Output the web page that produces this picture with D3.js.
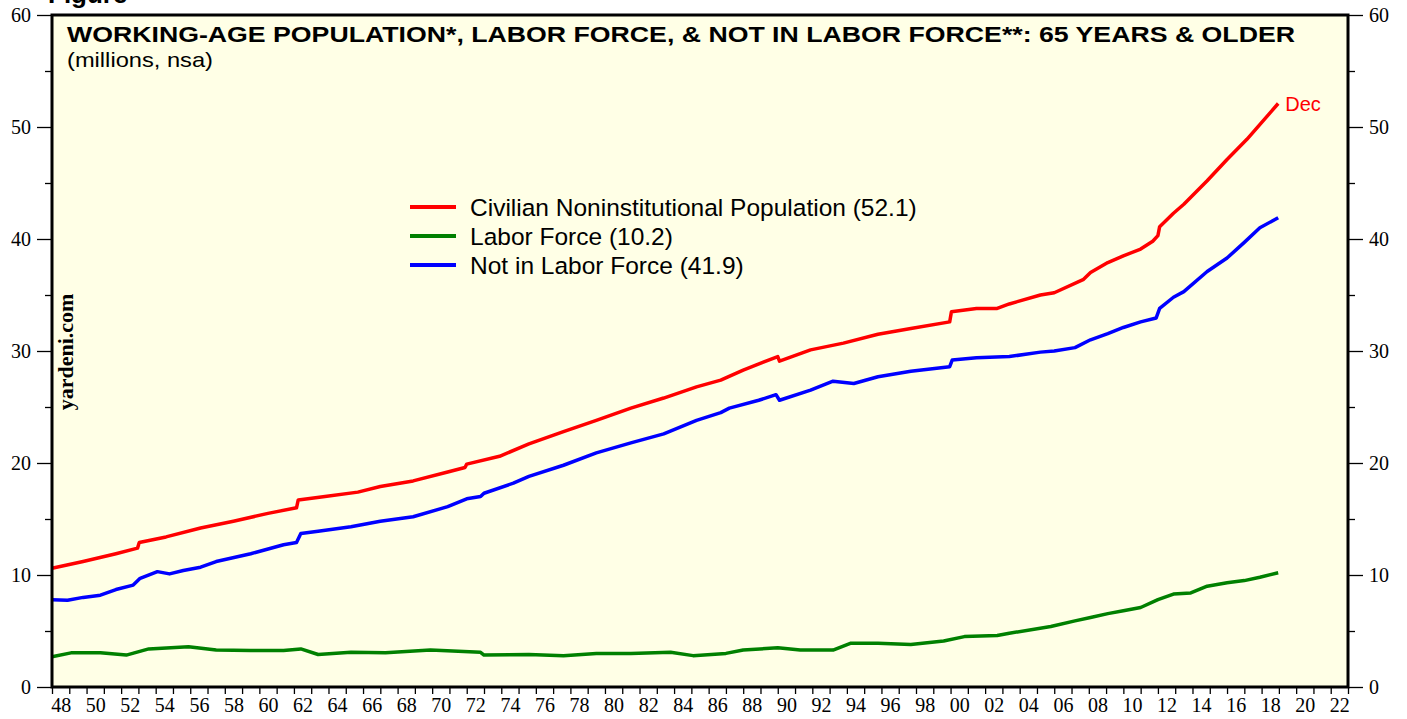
<!DOCTYPE html>
<html>
<head>
<meta charset="utf-8">
<script src="https://cdn.jsdelivr.net/npm/d3@7"></script>
<style>
  body { margin: 0; background: #fff; }
  svg { display: block; }
  .axis path { display: none; }
  .axis line { stroke: #000; stroke-width: 1.3; }
  .axis text { font-family: "Liberation Serif", "Times New Roman", serif; font-size: 20px; fill: #000; }
</style>
</head>
<body>
<svg id="chart" width="1407" height="719"></svg>
<script>
// Series: [decimal year, millions]
const civPop = [
  [1948.0, 10.6], [1949.8, 11.2], [1951.7, 11.9], [1952.95, 12.4], [1953.05, 12.9],
  [1954.6, 13.4], [1956.6, 14.2], [1958.5, 14.8], [1960.5, 15.5], [1962.15, 16.0],
  [1962.25, 16.7], [1963.8, 17.0], [1965.7, 17.4], [1967.0, 17.9], [1968.9, 18.4],
  [1970.9, 19.2], [1971.9, 19.6], [1972.0, 19.9], [1973.9, 20.6], [1975.6, 21.7],
  [1977.6, 22.8], [1979.5, 23.8], [1981.5, 24.9], [1983.4, 25.8], [1985.3, 26.8],
  [1986.7, 27.4], [1988.0, 28.3], [1990.0, 29.5], [1990.1, 29.1], [1991.9, 30.1],
  [1993.8, 30.7], [1995.8, 31.5], [1997.7, 32.0], [1999.95, 32.6], [2000.05, 33.5],
  [2001.5, 33.8], [2002.7, 33.8], [2003.4, 34.2], [2005.2, 35.0], [2006.0, 35.2],
  [2007.7, 36.4], [2008.1, 37.0], [2009.1, 37.9], [2010.0, 38.5], [2011.0, 39.1],
  [2011.7, 39.8], [2012.0, 40.3], [2012.1, 41.1], [2012.9, 42.3], [2013.5, 43.1],
  [2014.85, 45.2], [2016.0, 47.1], [2017.15, 48.9], [2018.96, 52.1]
];

const laborForce = [
  [1948.0, 2.7], [1949.1, 3.05], [1950.8, 3.05], [1952.3, 2.85], [1953.6, 3.4],
  [1955.9, 3.6], [1957.5, 3.3], [1959.5, 3.25], [1961.4, 3.25], [1962.4, 3.4],
  [1963.4, 2.9], [1965.3, 3.1], [1967.3, 3.05], [1969.9, 3.3], [1972.8, 3.1],
  [1973.0, 2.85], [1975.6, 2.9], [1977.6, 2.8], [1979.5, 3.0], [1981.5, 3.0],
  [1983.8, 3.1], [1985.1, 2.8], [1987.0, 3.0], [1988.0, 3.3], [1990.0, 3.5],
  [1991.3, 3.3], [1993.2, 3.3], [1994.2, 3.9], [1995.8, 3.9], [1997.7, 3.8],
  [1999.6, 4.1], [2000.8, 4.5], [2002.7, 4.6], [2003.4, 4.8], [2005.8, 5.4],
  [2007.2, 5.9], [2008.1, 6.2], [2009.1, 6.55], [2010.0, 6.8], [2011.0, 7.1],
  [2012.0, 7.8], [2012.9, 8.3], [2013.9, 8.4], [2014.85, 9.0], [2016.0, 9.3],
  [2017.0, 9.5], [2017.9, 9.8], [2018.96, 10.2]
];

const notInLF = [
  [1948.0, 7.8], [1948.9, 7.75], [1949.8, 8.0], [1950.8, 8.2], [1951.7, 8.7],
  [1952.7, 9.1], [1953.1, 9.7], [1954.1, 10.3], [1954.8, 10.1], [1955.6, 10.4],
  [1956.6, 10.7], [1957.5, 11.2], [1959.5, 11.9], [1961.4, 12.7], [1962.15, 12.9],
  [1962.4, 13.7], [1963.4, 13.9], [1965.3, 14.3], [1967.0, 14.8], [1968.9, 15.2],
  [1970.9, 16.1], [1972.0, 16.8], [1972.8, 17.0], [1973.0, 17.3], [1974.7, 18.2],
  [1975.6, 18.8], [1977.6, 19.8], [1979.5, 20.9], [1981.5, 21.8], [1983.4, 22.6],
  [1985.3, 23.8], [1986.7, 24.5], [1987.2, 24.9], [1988.9, 25.6], [1989.9, 26.1],
  [1990.1, 25.6], [1991.9, 26.5], [1993.2, 27.3], [1994.4, 27.1], [1995.8, 27.7],
  [1997.7, 28.2], [1999.95, 28.6], [2000.1, 29.2], [2001.5, 29.4], [2003.4, 29.5],
  [2005.2, 29.9], [2006.0, 30.0], [2007.2, 30.3], [2008.1, 31.0], [2009.1, 31.55],
  [2010.0, 32.1], [2011.0, 32.6], [2011.9, 32.95], [2012.1, 33.8], [2012.9, 34.8],
  [2013.5, 35.3], [2014.85, 37.1], [2016.0, 38.3], [2017.0, 39.7], [2017.9, 41.0],
  [2018.96, 41.9]
];

const seriesNames = [
  'Civilian Noninstitutional Population (52.1)',
  'Labor Force (10.2)',
  'Not in Labor Force (41.9)'
];
const seriesColors = ['#ff0000', '#008000', '#0000ff'];

const yearTicks = d3.range(1948, 2024);
const yearLabels = d3.range(1948, 2023, 2);
const yMajor = d3.range(0, 61, 10);
const yMinor = d3.range(5, 60, 10);

// Layout
const margin = { left: 52, right: 59, top: 15, bottom: 32 };
const W = 1407, H = 719;
const plotW = W - margin.left - margin.right;
const plotH = H - margin.top - margin.bottom;
const sans = 'Liberation Sans, Arial, sans-serif';

const svg = d3.select('#chart');

const x = d3.scaleLinear().domain([1948, 2023]).range([margin.left, margin.left + plotW]);
const y = d3.scaleLinear().domain([0, 60]).range([margin.top + plotH, margin.top]);

// Cut-off header text at the very top (only its lower part shows)
svg.append('text')
  .attr('x', 48).attr('y', 3)
  .attr('font-family', sans)
  .attr('font-weight', 'bold').attr('font-size', 26)
  .text('Figure');

// Plot background
svg.append('rect')
  .attr('x', margin.left).attr('y', margin.top)
  .attr('width', plotW).attr('height', plotH)
  .attr('fill', '#ffffe6');

// Left axis
svg.append('g').attr('class', 'axis')
  .attr('transform', `translate(${margin.left},0)`)
  .call(d3.axisLeft(y).tickValues(yMajor).tickSize(15).tickPadding(6).tickFormat(d3.format('d')));
svg.append('g').attr('class', 'axis')
  .attr('transform', `translate(${margin.left},0)`)
  .call(d3.axisLeft(y).tickValues(yMinor).tickSize(7).tickFormat(''));

// Right axis
svg.append('g').attr('class', 'axis')
  .attr('transform', `translate(${margin.left + plotW},0)`)
  .call(d3.axisRight(y).tickValues(yMajor).tickSize(15).tickPadding(6).tickFormat(d3.format('d')));
svg.append('g').attr('class', 'axis')
  .attr('transform', `translate(${margin.left + plotW},0)`)
  .call(d3.axisRight(y).tickValues(yMinor).tickSize(7).tickFormat(''));

// Bottom axis: yearly ticks, labels centred in mid-year
svg.append('g').attr('class', 'axis')
  .attr('transform', `translate(0,${margin.top + plotH})`)
  .call(d3.axisBottom(x).tickValues(yearTicks).tickSize(7).tickFormat(''))
  .selectAll('line').attr('stroke-width', 2);
svg.append('g').attr('class', 'axis')
  .attr('transform', `translate(0,${margin.top + plotH})`)
  .call(d3.axisBottom(x).tickValues(yearLabels.map((d) => d + 0.5)).tickSize(0).tickPadding(11)
    .tickFormat((d) => String(Math.floor(d) % 100).padStart(2, '0')));

// Title
svg.append('text')
  .attr('x', 67).attr('y', 42)
  .attr('font-family', sans)
  .attr('font-weight', 'bold').attr('font-size', 22)
  .attr('textLength', 1228).attr('lengthAdjust', 'spacingAndGlyphs')
  .text('WORKING-AGE POPULATION*, LABOR FORCE, & NOT IN LABOR FORCE**: 65 YEARS & OLDER');
svg.append('text')
  .attr('x', 67).attr('y', 67)
  .attr('font-family', sans)
  .attr('font-size', 21)
  .attr('textLength', 146).attr('lengthAdjust', 'spacingAndGlyphs')
  .text('(millions, nsa)');

// yardeni.com
svg.append('text')
  .attr('transform', 'translate(73,352) rotate(-90)')
  .attr('text-anchor', 'middle')
  .attr('font-family', 'Liberation Serif, Times New Roman, serif')
  .attr('font-weight', 'bold').attr('font-size', 22)
  .text('yardeni.com');

// Lines
const line = d3.line().x((d) => x(d[0])).y((d) => y(d[1]));
[civPop, laborForce, notInLF].forEach((data, i) => {
  svg.append('path')
    .datum(data)
    .attr('fill', 'none')
    .attr('stroke', seriesColors[i])
    .attr('stroke-width', 3.5)
    .attr('stroke-linejoin', 'round')
    .attr('d', line);
});

// Dec label
const last = civPop[civPop.length - 1];
svg.append('text')
  .attr('x', x(last[0]) + 7).attr('y', y(last[1]) + 8)
  .attr('font-family', sans)
  .attr('font-size', 20).attr('fill', '#ff0000')
  .text('Dec');

// Legend
const legend = svg.append('g').attr('transform', 'translate(410,207)');
seriesNames.forEach((name, i) => {
  const row = legend.append('g').attr('transform', `translate(0,${i * 29})`);
  row.append('line')
    .attr('x1', 0).attr('x2', 46)
    .attr('stroke', seriesColors[i]).attr('stroke-width', 4);
  row.append('text')
    .attr('x', 60).attr('y', 9)
    .attr('font-family', sans)
    .attr('font-size', 24.5)
    .text(name);
});

// Frame
svg.append('rect')
  .attr('x', margin.left).attr('y', margin.top)
  .attr('width', plotW).attr('height', plotH)
  .attr('fill', 'none').attr('stroke', '#000').attr('stroke-width', 3);
</script>
</body>
</html>
